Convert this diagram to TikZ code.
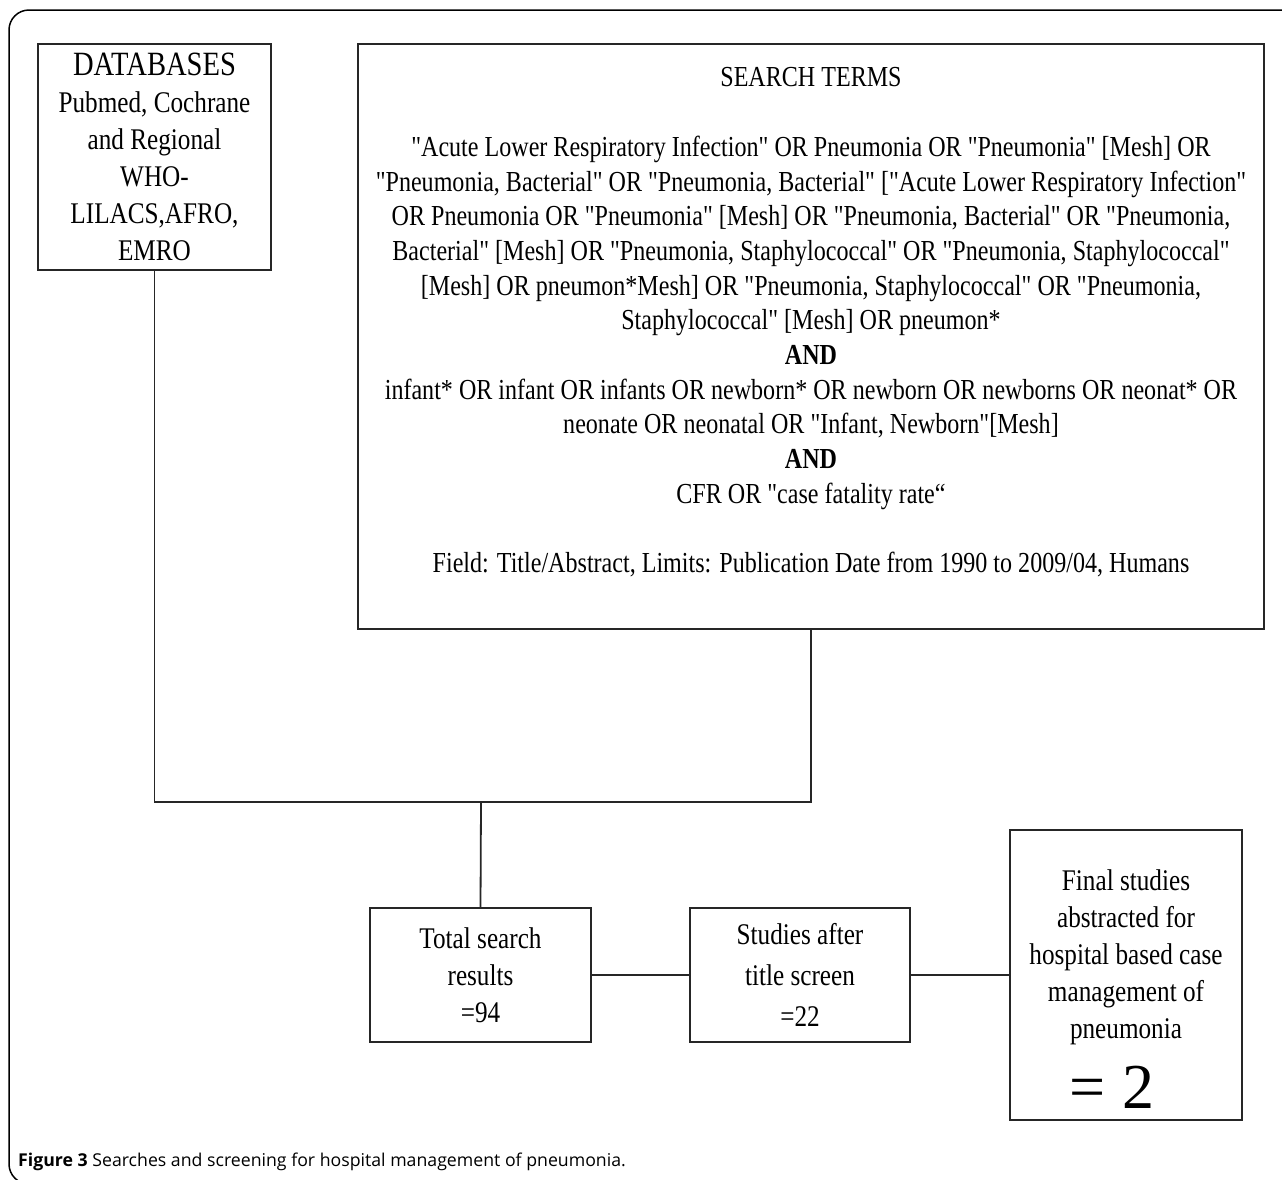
\documentclass[tikz,border=0pt]{standalone}
\usepackage{fontspec}
\setmainfont{Liberation Serif}
\newfontfamily\condfont[FakeStretch=0.84]{Liberation Serif}
\newfontfamily\srchfont[FakeStretch=0.83]{Liberation Serif}
\newfontfamily\capfont{Open Sans}
\begin{document}
\begin{tikzpicture}[x=1pt,y=-1pt,
  box/.style={draw=black!85,line width=1.8pt,inner sep=0pt,align=center,
    font=\condfont\fontsize{30}{37}\selectfont},
  link/.style={draw=black!85,line width=1.8pt},
  txt/.style={font=\srchfont\fontsize{29}{34.7}\selectfont,align=center,inner sep=0pt}]
\useasboundingbox (0,0) rectangle (1282,1179);
\begin{scope}
\clip (0,0) rectangle (1282,1179);
\draw[line width=1.5pt,rounded corners=20pt] (9,10) rectangle (1320,1184);
\end{scope}
% boxes
\node[box,minimum width=233,minimum height=226] (db) at (154.5,157)
  {\raisebox{0pt}[0pt][0pt]{}{\fontsize{34}{37}\selectfont DATABASES}\\Pubmed, Cochrane\\and Regional\\WHO-\\LILACS,AFRO,\\EMRO};
\node[box,minimum width=906,minimum height=585] (search) at (811,336.5) {};
\node[txt] (searchtxt) at (811,322.5) {%
SEARCH TERMS\\[34.7pt]
"Acute Lower Respiratory Infection" OR Pneumonia OR "Pneumonia" {[Mesh]} OR\\
"Pneumonia, Bacterial" OR "Pneumonia, Bacterial" {["Acute} Lower Respiratory Infection"\\
OR Pneumonia OR "Pneumonia" {[Mesh]} OR "Pneumonia, Bacterial" OR "Pneumonia,\\
Bacterial" {[Mesh]} OR "Pneumonia, Staphylococcal" OR "Pneumonia, Staphylococcal"\\
{[Mesh]} OR pneumon*Mesh] OR "Pneumonia, Staphylococcal" OR "Pneumonia,\\
Staphylococcal" {[Mesh]} OR pneumon*\\
\textbf{AND}\\
infant* OR infant OR infants OR newborn* OR newborn OR newborns OR neonat* OR\\
neonate OR neonatal OR "Infant, Newborn"{[Mesh]}\\
\textbf{AND}\\
CFR OR "case fatality rate“\\[34.7pt]
Field: Title/Abstract, Limits: Publication Date from 1990 to 2009/04, Humans};
\node[box,minimum width=221,minimum height=134] (tot) at (480.5,975)
  {Total search\\results\\=94};
\node[box,minimum width=220,minimum height=134,font=\condfont\fontsize{30}{41}\selectfont] (stu) at (800,975)
  {Studies after\\title screen\\=22};
\node[box,minimum width=232,minimum height=290] (fin) at (1126,975) {};
\node[txt,font=\condfont\fontsize{30}{37}\selectfont] (fintxt) at (1126,957)
  {Final studies\\abstracted for\\hospital based case\\management of\\pneumonia};
\node[inner sep=0pt,font=\fontsize{64}{64}\selectfont] (fineq) at (1112,1087) {= 2};
% connectors
\coordinate (j) at (481,802);
\draw[link] (db.south) |- (search.south |- j) -- (search.south);
\draw[link] (j) -- (tot.north);
\draw[link] (tot) -- (stu);
\draw[link] (stu) -- (fin);
% caption
\node[anchor=base west,inner sep=0pt,font=\capfont\fontsize{17.7}{20}\selectfont] (cap) at (18,1166)
  {\textbf{Figure 3} Searches and screening for hospital management of pneumonia.};
\end{tikzpicture}
\end{document}
